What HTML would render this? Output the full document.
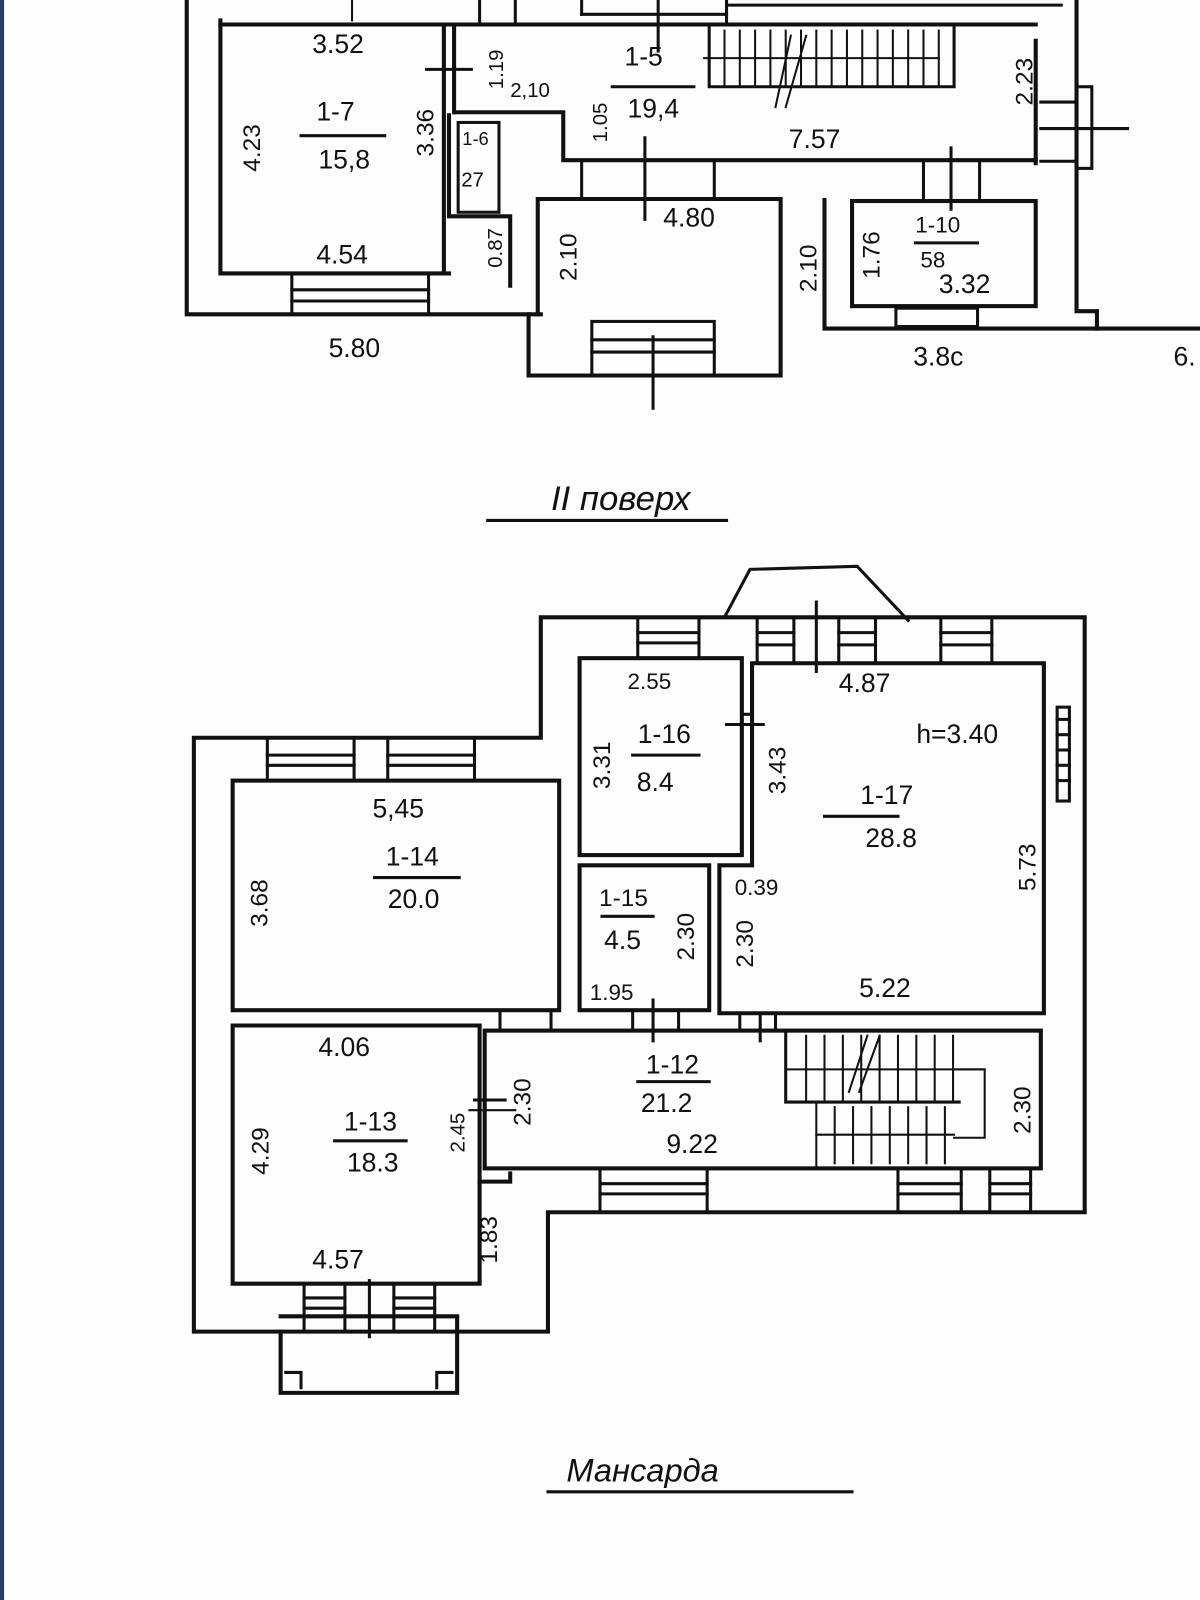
<!DOCTYPE html>
<html><head><meta charset="utf-8"><style>
html,body{margin:0;padding:0;background:#fff;}
svg{display:block;}
text{font-family:"Liberation Sans","DejaVu Sans",sans-serif;fill:#111;}
</style></head><body>
<svg width="1200" height="1600" viewBox="0 0 1176 1568" xmlns="http://www.w3.org/2000/svg">
<rect width="1176" height="1568" fill="#fdfdfd"/>
<rect x="0" y="0" width="4" height="1568" fill="#2b3d63"/>
<g stroke="#111" stroke-width="4" fill="none" stroke-linecap="square">
<!-- TOP PLAN -->
<polyline points="183,0 183,308 530,308"/>
<polyline points="216,20 216,268 440,268"/>
<line x1="216" y1="24" x2="440" y2="24"/>
<line x1="440" y1="24" x2="1015" y2="24"/>
<line x1="435" y1="24" x2="435" y2="268"/>
<line x1="445" y1="24" x2="445" y2="110"/>
<polyline points="445,110 552,110 552,157 1015,157"/>
<polyline points="440,113 440,212 500,212 500,280"/>
<rect x="449" y="120" width="40" height="88" stroke-width="3"/>
<rect x="286" y="268" width="134" height="40" stroke-width="3"/>
<line x1="286" y1="284" x2="420" y2="284" stroke-width="3"/>
<line x1="286" y1="295" x2="420" y2="295" stroke-width="3"/>
<polyline points="518,308 518,368 765,368 765,195 527,195 527,308"/>
<rect x="580" y="315" width="120" height="53" stroke-width="3"/>
<line x1="580" y1="333" x2="700" y2="333" stroke-width="3"/>
<line x1="580" y1="345" x2="700" y2="345" stroke-width="3"/>
<line x1="640" y1="330" x2="640" y2="400" stroke-width="3"/>
<line x1="632" y1="135" x2="632" y2="215" stroke-width="3"/>
<line x1="570" y1="157" x2="570" y2="195" stroke-width="3"/>
<line x1="700" y1="157" x2="700" y2="195" stroke-width="3"/>
<polyline points="808,196 808,322 1176,322"/>
<rect x="835" y="197" width="180" height="103"/>
<line x1="905" y1="157" x2="905" y2="197" stroke-width="3"/>
<line x1="960" y1="157" x2="960" y2="197" stroke-width="3"/>
<line x1="932" y1="145" x2="932" y2="205" stroke-width="3"/>
<rect x="878" y="302" width="80" height="18" stroke-width="3"/>
<polyline points="1015,40 1015,160"/>
<polyline points="1055,0 1055,305 1075,305 1075,322"/>
<rect x="1055" y="85" width="15" height="80" stroke-width="3"/>
<line x1="1020" y1="126" x2="1105" y2="126" stroke-width="3"/>
<line x1="1020" y1="100" x2="1055" y2="100" stroke-width="3"/>
<line x1="1020" y1="158" x2="1055" y2="158" stroke-width="3"/>
<!-- stairs top -->
<polyline points="695,24 695,85 935,85 935,24" stroke-width="3"/>
<g stroke-width="2">
<line x1="710" y1="30" x2="710" y2="85"/><line x1="725" y1="30" x2="725" y2="85"/><line x1="740" y1="30" x2="740" y2="85"/>
<line x1="755" y1="30" x2="755" y2="85"/><line x1="770" y1="30" x2="770" y2="85"/><line x1="785" y1="30" x2="785" y2="85"/>
<line x1="800" y1="30" x2="800" y2="85"/><line x1="815" y1="30" x2="815" y2="85"/><line x1="830" y1="30" x2="830" y2="85"/>
<line x1="845" y1="30" x2="845" y2="85"/><line x1="860" y1="30" x2="860" y2="85"/><line x1="875" y1="30" x2="875" y2="85"/>
<line x1="890" y1="30" x2="890" y2="85"/><line x1="905" y1="30" x2="905" y2="85"/><line x1="920" y1="30" x2="920" y2="85"/>
<line x1="690" y1="57" x2="920" y2="57"/>
<line x1="775" y1="35" x2="760" y2="105"/><line x1="790" y1="35" x2="770" y2="105"/>
</g>
<line x1="345" y1="0" x2="345" y2="20" stroke-width="2"/>
<line x1="470" y1="0" x2="470" y2="22" stroke-width="3"/><line x1="505" y1="0" x2="505" y2="22" stroke-width="3"/>
<line x1="570" y1="0" x2="570" y2="14" stroke-width="3"/><line x1="712" y1="0" x2="712" y2="22" stroke-width="3"/>
<line x1="570" y1="14" x2="712" y2="14" stroke-width="3"/><line x1="712" y1="5" x2="1040" y2="5" stroke-width="3"/>
<line x1="645" y1="0" x2="645" y2="50" stroke-width="3"/>
<line x1="418" y1="68" x2="462" y2="68" stroke-width="3"/>

<!-- BOTTOM PLAN -->
<polyline points="193,723 530,723 530,605 1063,605 1063,1188 537,1188 537,1305 190,1305 190,723"/>
<polyline points="710,605 735,558 840,555 890,608" stroke-width="3"/>
<line x1="800" y1="590" x2="800" y2="658" stroke-width="3"/>
<rect x="228" y="765" width="320" height="225"/>
<polyline points="470,1005 228,1005 228,1258 470,1258 470,1158 500,1158 500,1150"/>
<line x1="470" y1="1005" x2="470" y2="1158"/>
<rect x="475" y="1010" width="545" height="135"/>
<rect x="568" y="645" width="159" height="193"/>
<rect x="568" y="848" width="127" height="142"/>
<polyline points="737,650 1023,650 1023,993 705,993 705,848 737,848 737,650"/>
<line x1="737" y1="700" x2="727" y2="700" stroke-width="3"/>
<line x1="712" y1="710" x2="748" y2="710" stroke-width="3"/>
<line x1="465" y1="1078" x2="495" y2="1078" stroke-width="3"/>
<line x1="505" y1="1088" x2="460" y2="1088" stroke-width="2"/>
<!-- windows bottom -->
<g stroke-width="3">
<rect x="262" y="723" width="85" height="42"/><line x1="262" y1="740" x2="347" y2="740"/><line x1="262" y1="750" x2="347" y2="750"/>
<rect x="380" y="723" width="85" height="42"/><line x1="380" y1="740" x2="465" y2="740"/><line x1="380" y1="750" x2="465" y2="750"/>
<rect x="625" y="605" width="60" height="40"/><line x1="625" y1="620" x2="685" y2="620"/><line x1="625" y1="630" x2="685" y2="630"/>
<rect x="742" y="605" width="36" height="45"/><line x1="742" y1="620" x2="778" y2="620"/><line x1="742" y1="632" x2="778" y2="632"/>
<rect x="822" y="605" width="36" height="45"/><line x1="822" y1="620" x2="858" y2="620"/><line x1="822" y1="632" x2="858" y2="632"/>
<rect x="922" y="605" width="50" height="45"/><line x1="922" y1="620" x2="972" y2="620"/><line x1="922" y1="632" x2="972" y2="632"/>
<rect x="588" y="1145" width="105" height="43"/><line x1="588" y1="1160" x2="693" y2="1160"/><line x1="588" y1="1170" x2="693" y2="1170"/>
<rect x="880" y="1145" width="62" height="43"/><line x1="880" y1="1160" x2="942" y2="1160"/><line x1="880" y1="1170" x2="942" y2="1170"/>
<rect x="970" y="1145" width="40" height="43"/><line x1="970" y1="1160" x2="1010" y2="1160"/><line x1="970" y1="1170" x2="1010" y2="1170"/>
<rect x="298" y="1258" width="40" height="47"/><line x1="298" y1="1272" x2="338" y2="1272"/><line x1="298" y1="1282" x2="338" y2="1282"/>
<rect x="386" y="1258" width="40" height="47"/><line x1="386" y1="1272" x2="426" y2="1272"/><line x1="386" y1="1282" x2="426" y2="1282"/>
<line x1="362" y1="1255" x2="362" y2="1310"/>
<rect x="1036" y="693" width="12" height="92"/>
<line x1="1036" y1="705" x2="1048" y2="705"/><line x1="1036" y1="720" x2="1048" y2="720"/><line x1="1036" y1="735" x2="1048" y2="735"/><line x1="1036" y1="750" x2="1048" y2="750"/><line x1="1036" y1="765" x2="1048" y2="765"/>
<line x1="620" y1="990" x2="620" y2="1010"/><line x1="665" y1="990" x2="665" y2="1010"/><line x1="640" y1="980" x2="640" y2="1020"/>
<line x1="490" y1="990" x2="490" y2="1010"/><line x1="540" y1="990" x2="540" y2="1010"/>
<line x1="725" y1="993" x2="725" y2="1010"/><line x1="745" y1="993" x2="745" y2="1020"/><line x1="760" y1="993" x2="760" y2="1010"/>
</g>
<polyline points="275,1305 275,1365 448,1365 448,1290 448,1305"/>
<line x1="275" y1="1290" x2="448" y2="1290"/>
<polyline points="280,1345 295,1345 295,1360" stroke-width="3"/>
<polyline points="443,1345 428,1345 428,1360" stroke-width="3"/>
<!-- stairs bottom -->
<g stroke-width="2">
<polyline points="770,1010 770,1080 940,1080" stroke-width="3"/>
<line x1="800" y1="1082" x2="800" y2="1145"/>
<line x1="770" y1="1048" x2="965" y2="1048"/><polyline points="935,1048 965,1048 965,1115 935,1115"/>
<line x1="790" y1="1015" x2="790" y2="1078"/><line x1="808" y1="1015" x2="808" y2="1078"/><line x1="826" y1="1015" x2="826" y2="1078"/>
<line x1="844" y1="1015" x2="844" y2="1078"/><line x1="862" y1="1015" x2="862" y2="1078"/><line x1="880" y1="1015" x2="880" y2="1078"/>
<line x1="898" y1="1015" x2="898" y2="1078"/><line x1="916" y1="1015" x2="916" y2="1078"/><line x1="934" y1="1015" x2="934" y2="1078"/>
<line x1="818" y1="1085" x2="818" y2="1140"/><line x1="836" y1="1085" x2="836" y2="1140"/><line x1="854" y1="1085" x2="854" y2="1140"/>
<line x1="872" y1="1085" x2="872" y2="1140"/><line x1="890" y1="1085" x2="890" y2="1140"/><line x1="908" y1="1085" x2="908" y2="1140"/>
<line x1="926" y1="1085" x2="926" y2="1140"/>
<line x1="800" y1="1112" x2="935" y2="1112"/>
<line x1="850" y1="1015" x2="832" y2="1070"/><line x1="862" y1="1015" x2="842" y2="1070"/>
</g>
<!-- title underlines -->
<line x1="478" y1="510" x2="712" y2="510" stroke-width="3"/>
<line x1="537" y1="1462" x2="835" y2="1462" stroke-width="3"/>
<!-- fraction bars -->
<g stroke-width="3">
<line x1="295" y1="133" x2="377" y2="133"/><line x1="600" y1="85" x2="680" y2="85"/>
<line x1="897" y1="238" x2="958" y2="238"/>
<line x1="367" y1="860" x2="450" y2="860"/><line x1="328" y1="1118" x2="398" y2="1118"/>
<line x1="620" y1="740" x2="685" y2="740"/><line x1="808" y1="800" x2="880" y2="800"/>
<line x1="590" y1="898" x2="640" y2="898"/><line x1="625" y1="1060" x2="695" y2="1060"/>
</g>
</g>
<g font-size="26">
<text x="306" y="52">3.52</text>
<text x="310" y="118">1-7</text><text x="312" y="165">15,8</text>
<text x="310" y="258">4.54</text>
<text x="322" y="350">5.80</text>
<text x="612" y="64">1-5</text><text x="615" y="115">19,4</text>
<text x="500" y="95" font-size="20">2,10</text>
<text x="773" y="145">7.57</text>
<text x="650" y="222">4.80</text>
<text x="897" y="228" font-size="22">1-10</text><text x="902" y="262" font-size="22">58</text>
<text x="920" y="287">3.32</text>
<text x="895" y="358">3.8c</text>
<text x="1150" y="358">6.</text>
<text x="452" y="183" font-size="20">27</text>
<text x="453" y="142" font-size="18">1-6</text>
<text x="540" y="500" font-size="34" font-style="italic">II поверх</text>
<text x="555" y="1452" font-size="32" font-style="italic">Мансарда</text>
<text x="365" y="801">5,45</text>
<text x="378" y="848">1-14</text><text x="380" y="890">20.0</text>
<text x="312" y="1035">4.06</text>
<text x="337" y="1108">1-13</text><text x="340" y="1148">18.3</text>
<text x="306" y="1243">4.57</text>
<text x="615" y="675" font-size="22">2.55</text>
<text x="625" y="728">1-16</text><text x="624" y="775">8.4</text>
<text x="822" y="678">4.87</text>
<text x="898" y="728">h=3.40</text>
<text x="843" y="788">1-17</text><text x="848" y="830">28.8</text>
<text x="587" y="888" font-size="24">1-15</text><text x="592" y="930">4.5</text>
<text x="578" y="980" font-size="22">1.95</text>
<text x="720" y="877" font-size="22">0.39</text>
<text x="842" y="977">5.22</text>
<text x="633" y="1052">1-12</text><text x="628" y="1090">21.2</text>
<text x="653" y="1130">9.22</text>
</g>
<g font-size="24">
<text transform="translate(255,145) rotate(-90)" text-anchor="middle">4.23</text>
<text transform="translate(425,130) rotate(-90)" text-anchor="middle">3.36</text>
<text transform="translate(493,68) rotate(-90)" text-anchor="middle" font-size="20">1.19</text>
<text transform="translate(595,120) rotate(-90)" text-anchor="middle" font-size="20">1.05</text>
<text transform="translate(492,243) rotate(-90)" text-anchor="middle" font-size="20">0.87</text>
<text transform="translate(565,252) rotate(-90)" text-anchor="middle">2.10</text>
<text transform="translate(800,263) rotate(-90)" text-anchor="middle">2.10</text>
<text transform="translate(862,250) rotate(-90)" text-anchor="middle">1.76</text>
<text transform="translate(1012,80) rotate(-90)" text-anchor="middle">2.23</text>
<text transform="translate(262,885) rotate(-90)" text-anchor="middle">3.68</text>
<text transform="translate(598,750) rotate(-90)" text-anchor="middle">3.31</text>
<text transform="translate(770,755) rotate(-90)" text-anchor="middle">3.43</text>
<text transform="translate(1015,850) rotate(-90)" text-anchor="middle">5.73</text>
<text transform="translate(680,918) rotate(-90)" text-anchor="middle">2.30</text>
<text transform="translate(738,925) rotate(-90)" text-anchor="middle">2.30</text>
<text transform="translate(520,1080) rotate(-90)" text-anchor="middle">2.30</text>
<text transform="translate(263,1128) rotate(-90)" text-anchor="middle">4.29</text>
<text transform="translate(455,1110) rotate(-90)" text-anchor="middle" font-size="20">2.45</text>
<text transform="translate(487,1215) rotate(-90)" text-anchor="middle">1.83</text>
<text transform="translate(1010,1088) rotate(-90)" text-anchor="middle">2.30</text>
</g>
</svg>
</body></html>
